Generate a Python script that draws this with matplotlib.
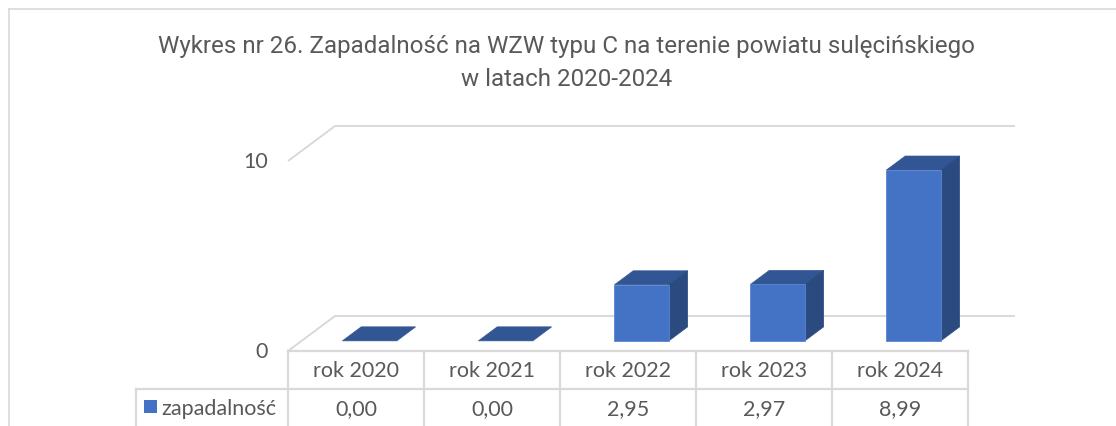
import matplotlib
matplotlib.use("Agg")
import matplotlib.pyplot as plt
from matplotlib.patches import Polygon, Rectangle

# ---------------- data ----------------
title_lines = ["Wykres nr 26. Zapadalność na WZW typu C na terenie powiatu sulęcińskiego",
               "w latach 2020-2024"]
categories = ["rok 2020", "rok 2021", "rok 2022", "rok 2023", "rok 2024"]
values = [0.00, 0.00, 2.95, 2.97, 8.99]
series_name = "zapadalność"
y_ticks = [0, 10]

# ---------------- layout ----------------
W, H = 1116, 427
fig = plt.figure(figsize=(W / 100, H / 100), dpi=100)
ax = fig.add_axes([0, 0, 1, 1])
X0, Y0, CW, VS = 288, 352, 136, 19   # pixel origin of category axis / value 0, px per category, px per unit
ax.set_xlim(-X0 / CW, (W - X0) / CW)
ax.set_ylim((Y0 - H) / VS, Y0 / VS)
ax.axis("off")


def px(x):
    return (x - X0) / CW


def py(y):
    return (Y0 - y) / VS


TABLE_FONT = ["Lato", "DejaVu Sans"]
TITLE_FONT = ["Roboto", "DejaVu Sans"]
TXT = "#595959"
GRID = "#d9d9d9"
FRONT, SIDE, TOP = "#4472C4", "#2A4A80", "#325694"

DX, DY = 47 / CW, 35 / VS          # oblique depth of the floor
T0, T1 = 0.29, 0.69                 # bar depth span (fraction of floor depth)
BW = 0.40                           # bar width in category units
n = len(categories)

# outer chart border (left + top)
ax.plot([px(9), px(9)], [py(H), py(10)], color=GRID, lw=1.2)
ax.plot([px(9), px(W)], [py(10), py(10)], color=GRID, lw=1.2)

# title
ax.text(px(567), py(47), title_lines[0], ha="center", va="center",
        fontsize=17.4, color=TXT, family=TITLE_FONT)
ax.text(px(567), py(80), title_lines[1], ha="center", va="center",
        fontsize=17.4, color=TXT, family=TITLE_FONT)

# gridlines on floor / back wall
x_end = px(1015)
for v in y_ticks:
    ax.plot([0, DX, x_end], [v, v + DY, v + DY], color=GRID, lw=1.4,
            solid_capstyle="butt", zorder=1)
    ax.text(px(268), v, str(v), ha="right", va="center", fontsize=15.5,
            color=TXT, family=TABLE_FONT)


def P(x, y, t):
    return (x + t * DX, y + t * DY)


# bars
for i, v in enumerate(values):
    xa, xb = i + 0.5 - BW / 2, i + 0.5 + BW / 2
    top = Polygon([P(xa, v, T0), P(xb, v, T0), P(xb, v, T1), P(xa, v, T1)],
                  closed=True, facecolor=TOP, edgecolor=TOP, lw=0.5, zorder=3)
    ax.add_patch(top)
    if v > 0:
        side = Polygon([P(xb, 0, T0), P(xb, 0, T1), P(xb, v, T1), P(xb, v, T0)],
                       closed=True, facecolor=SIDE, edgecolor=SIDE, lw=0.5, zorder=3)
        front = Polygon([P(xa, 0, T0), P(xb, 0, T0), P(xb, v, T0), P(xa, v, T0)],
                        closed=True, facecolor=FRONT, edgecolor="#5a86d0", lw=0.6, zorder=4)
        ax.add_patch(side)
        ax.add_patch(front)

# data table
y_row = py(390)
y_bot = py(H)
ax.plot([0, n], [0, 0], color=GRID, lw=1.6, zorder=2)
ax.plot([px(136), n], [y_row, y_row], color=GRID, lw=1.6, zorder=2)
for k in range(n + 1):
    ax.plot([k, k], [0, y_bot], color=GRID, lw=1.6, zorder=2)
ax.plot([px(136), px(136)], [y_row, y_bot], color=GRID, lw=1.6, zorder=2)

for i, (c, v) in enumerate(zip(categories, values)):
    ax.text(i + 0.5, py(371), c, ha="center", va="center", fontsize=15.5,
            color=TXT, family=TABLE_FONT)
    ax.text(i + 0.5, py(409), f"{v:.2f}".replace(".", ","), ha="center",
            va="center", fontsize=15.5, color=TXT, family=TABLE_FONT)

ax.add_patch(Rectangle((px(144), py(414)), px(157) - px(144), py(401) - py(414),
                       facecolor=FRONT, edgecolor="none"))
ax.text(px(161), py(409), series_name, ha="left", va="center", fontsize=15.5,
        color=TXT, family=TABLE_FONT)

fig.savefig("out.png", dpi=100, facecolor="white")
